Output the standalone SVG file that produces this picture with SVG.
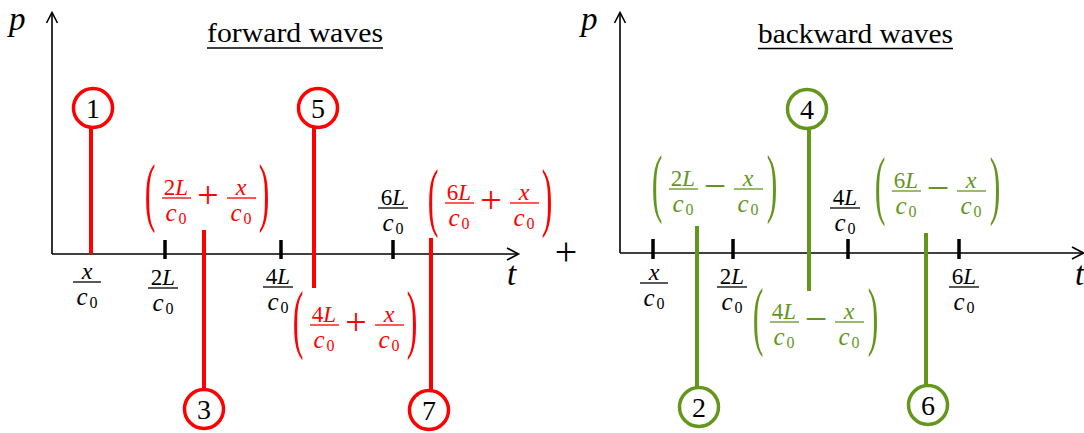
<svg xmlns="http://www.w3.org/2000/svg" width="1084" height="433" viewBox="0 0 1084 433" font-family="'Liberation Serif', 'DejaVu Serif', serif">
<style>
text{font-family:'Liberation Serif','DejaVu Serif',serif}
.ax{stroke:#000;stroke-width:1.6;fill:none}
.tick{stroke:#000;stroke-width:3.5}
.rl{stroke:#ff0000;stroke-width:4}
.gl{stroke:#64961c;stroke-width:4}
.rc{fill:#fff;stroke:#ff0000;stroke-width:3.5}
.gc{fill:#fff;stroke:#64961c;stroke-width:3.5}
.num{font-size:28px;text-anchor:middle;fill:#000}
.m{font-size:23px;text-anchor:middle}
.i{font-style:italic}
.xv{font-style:italic;font-size:24px}
.c{font-style:italic;font-size:25px}
.sub{font-size:16px}
.par{font-size:76px;text-anchor:middle}
.op{font-size:38px;text-anchor:middle}
.mi{font-size:40px;text-anchor:middle}
.big{font-style:italic;font-size:33px}
.title{font-size:27px;fill:#000}
.red text{fill:#ff0000}
.red line{stroke:#ff0000;stroke-width:1.3}
.green text{fill:#64961c}
.green line{stroke:#64961c;stroke-width:1.3}
.blk text{fill:#000}
.blk line{stroke:#000;stroke-width:1.3}
</style>

<g id="axes">
  <line class="ax" x1="52" y1="254" x2="52" y2="13"/>
  <polyline class="ax" points="46.5,23 52,12.5 57.5,23"/>
  <line class="ax" x1="52" y1="254" x2="518" y2="254"/>
  <polyline class="ax" points="507,248 518.5,254 507,260"/>
  <line class="ax" x1="620" y1="253" x2="620" y2="13"/>
  <polyline class="ax" points="614.5,23 620,12.5 625.5,23"/>
  <line class="ax" x1="620" y1="253" x2="1083" y2="253"/>
  <polyline class="ax" points="1072,247 1083.5,253 1072,259"/>
  <line class="tick" x1="165" y1="240" x2="165" y2="259"/>
  <line class="tick" x1="281" y1="240" x2="281" y2="259"/>
  <line class="tick" x1="393" y1="240" x2="393" y2="259"/>
  <line class="tick" x1="653" y1="239" x2="653" y2="259"/>
  <line class="tick" x1="733" y1="239" x2="733" y2="259"/>
  <line class="tick" x1="848" y1="239" x2="848" y2="259"/>
  <line class="tick" x1="959" y1="239" x2="959" y2="259"/>
  <text class="big" x="9" y="30">p</text>
  <text class="big" x="581" y="30">p</text>
  <text class="big" x="507" y="285">t</text>
  <text class="big" x="1075" y="285">t</text>
  <text class="op" x="566" y="265" style="font-size:40px">+</text>
</g>

<g id="titles">
  <text class="title" x="207" y="42" textLength="176" lengthAdjust="spacingAndGlyphs">forward waves</text>
  <line x1="207" y1="48" x2="383" y2="48" stroke="#000" stroke-width="1.5"/>
  <text class="title" x="758" y="43" textLength="195" lengthAdjust="spacingAndGlyphs">backward waves</text>
  <line x1="758" y1="48.5" x2="953" y2="48.5" stroke="#000" stroke-width="1.5"/>
</g>

<g id="tick-labels" class="blk">
  <g id="tl-left-x" transform="translate(87,282)">
    <text class="m" x="0" y="-3"><tspan class="xv">x</tspan></text>
    <line x1="-14" y1="0" x2="14" y2="0"/>
    <text class="m" x="0" y="23"><tspan class="c">c</tspan><tspan class="sub" dx="2" dy="3">0</tspan></text>
  </g>
  <g id="tl-left-2L" transform="translate(163,288)">
    <text class="m" x="0" y="-3">2<tspan class="i">L</tspan></text>
    <line x1="-15" y1="0" x2="15" y2="0"/>
    <text class="m" x="0" y="23"><tspan class="c">c</tspan><tspan class="sub" dx="2" dy="3">0</tspan></text>
  </g>
  <g id="tl-left-4L" transform="translate(278,287)">
    <text class="m" x="0" y="-3">4<tspan class="i">L</tspan></text>
    <line x1="-15" y1="0" x2="15" y2="0"/>
    <text class="m" x="0" y="23"><tspan class="c">c</tspan><tspan class="sub" dx="2" dy="3">0</tspan></text>
  </g>
  <g id="tl-left-6L" transform="translate(393,208)">
    <text class="m" x="0" y="-3">6<tspan class="i">L</tspan></text>
    <line x1="-15" y1="0" x2="15" y2="0"/>
    <text class="m" x="0" y="23"><tspan class="c">c</tspan><tspan class="sub" dx="2" dy="3">0</tspan></text>
  </g>
  <g id="tl-right-x" transform="translate(654,283)">
    <text class="m" x="0" y="-3"><tspan class="xv">x</tspan></text>
    <line x1="-14" y1="0" x2="14" y2="0"/>
    <text class="m" x="0" y="23"><tspan class="c">c</tspan><tspan class="sub" dx="2" dy="3">0</tspan></text>
  </g>
  <g id="tl-right-2L" transform="translate(732,287)">
    <text class="m" x="0" y="-3">2<tspan class="i">L</tspan></text>
    <line x1="-15" y1="0" x2="15" y2="0"/>
    <text class="m" x="0" y="23"><tspan class="c">c</tspan><tspan class="sub" dx="2" dy="3">0</tspan></text>
  </g>
  <g id="tl-right-4L" transform="translate(845,208)">
    <text class="m" x="0" y="-3">4<tspan class="i">L</tspan></text>
    <line x1="-15" y1="0" x2="15" y2="0"/>
    <text class="m" x="0" y="23"><tspan class="c">c</tspan><tspan class="sub" dx="2" dy="3">0</tspan></text>
  </g>
  <g id="tl-right-6L" transform="translate(964,287)">
    <text class="m" x="0" y="-3">6<tspan class="i">L</tspan></text>
    <line x1="-15" y1="0" x2="15" y2="0"/>
    <text class="m" x="0" y="23"><tspan class="c">c</tspan><tspan class="sub" dx="2" dy="3">0</tspan></text>
  </g>
</g>

<g id="connectors">
  <line class="rl" x1="91" y1="126" x2="91" y2="254"/>
  <line class="rl" x1="204" y1="230" x2="204" y2="390"/>
  <line class="rl" x1="314" y1="126" x2="314" y2="288"/>
  <line class="rl" x1="431" y1="238" x2="431" y2="391"/>
  <line class="gl" x1="697" y1="226" x2="697" y2="389"/>
  <line class="gl" x1="809" y1="127" x2="809" y2="291"/>
  <line class="gl" x1="926" y1="233" x2="926" y2="387"/>
</g>

<g id="node-1"><circle class="rc" cx="93" cy="108" r="19.5"/><text class="num" x="93" y="118">1</text></g>
<g id="node-3"><circle class="rc" cx="204" cy="409" r="19.5"/><text class="num" x="204" y="419">3</text></g>
<g id="node-5"><circle class="rc" cx="318" cy="108" r="19.5"/><text class="num" x="318" y="118">5</text></g>
<g id="node-7"><circle class="rc" cx="429" cy="410" r="19.5"/><text class="num" x="429" y="420">7</text></g>
<g id="node-2"><circle class="gc" cx="699" cy="407" r="19.5"/><text class="num" x="699" y="417">2</text></g>
<g id="node-4"><circle class="gc" cx="807" cy="109" r="19.5"/><text class="num" x="807" y="119">4</text></g>
<g id="node-6"><circle class="gc" cx="928" cy="405" r="19.5"/><text class="num" x="928" y="415">6</text></g>

<g id="label-3" class="red" transform="translate(145,198)">
  <text class="par" transform="translate(5,19) scale(0.42,1)">(</text>
  <text class="m" x="31" y="-3">2<tspan class="i">L</tspan></text>
  <line x1="17" y1="0" x2="46" y2="0"/>
  <text class="m" x="31" y="23"><tspan class="c">c</tspan><tspan class="sub" dx="2" dy="3">0</tspan></text>
  <text class="op" x="63" y="10">+</text>
  <text class="m" x="96" y="-3"><tspan class="xv">x</tspan></text>
  <line x1="82" y1="0" x2="111" y2="0"/>
  <text class="m" x="96" y="23"><tspan class="c">c</tspan><tspan class="sub" dx="2" dy="3">0</tspan></text>
  <text class="par" transform="translate(119,19) scale(0.42,1)">)</text>
</g>
<g id="label-5" class="red" transform="translate(293,325)">
  <text class="par" transform="translate(5,19) scale(0.42,1)">(</text>
  <text class="m" x="31" y="-3">4<tspan class="i">L</tspan></text>
  <line x1="17" y1="0" x2="46" y2="0"/>
  <text class="m" x="31" y="23"><tspan class="c">c</tspan><tspan class="sub" dx="2" dy="3">0</tspan></text>
  <text class="op" x="63" y="10">+</text>
  <text class="m" x="96" y="-3"><tspan class="xv">x</tspan></text>
  <line x1="82" y1="0" x2="111" y2="0"/>
  <text class="m" x="96" y="23"><tspan class="c">c</tspan><tspan class="sub" dx="2" dy="3">0</tspan></text>
  <text class="par" transform="translate(119,19) scale(0.42,1)">)</text>
</g>
<g id="label-7" class="red" transform="translate(428,203)">
  <text class="par" transform="translate(5,19) scale(0.42,1)">(</text>
  <text class="m" x="31" y="-3">6<tspan class="i">L</tspan></text>
  <line x1="17" y1="0" x2="46" y2="0"/>
  <text class="m" x="31" y="23"><tspan class="c">c</tspan><tspan class="sub" dx="2" dy="3">0</tspan></text>
  <text class="op" x="63" y="10">+</text>
  <text class="m" x="96" y="-3"><tspan class="xv">x</tspan></text>
  <line x1="82" y1="0" x2="111" y2="0"/>
  <text class="m" x="96" y="23"><tspan class="c">c</tspan><tspan class="sub" dx="2" dy="3">0</tspan></text>
  <text class="par" transform="translate(119,19) scale(0.42,1)">)</text>
</g>
<g id="label-2" class="green" transform="translate(652,189)">
  <text class="par" transform="translate(5,19) scale(0.42,1)">(</text>
  <text class="m" x="31" y="-3">2<tspan class="i">L</tspan></text>
  <line x1="17" y1="0" x2="46" y2="0"/>
  <text class="m" x="31" y="23"><tspan class="c">c</tspan><tspan class="sub" dx="2" dy="3">0</tspan></text>
  <text class="mi" x="63" y="10">−</text>
  <text class="m" x="96" y="-3"><tspan class="xv">x</tspan></text>
  <line x1="82" y1="0" x2="111" y2="0"/>
  <text class="m" x="96" y="23"><tspan class="c">c</tspan><tspan class="sub" dx="2" dy="3">0</tspan></text>
  <text class="par" transform="translate(120,19) scale(0.42,1)">)</text>
</g>
<g id="label-4" class="green" transform="translate(753,322)">
  <text class="par" transform="translate(5,19) scale(0.42,1)">(</text>
  <text class="m" x="31" y="-3">4<tspan class="i">L</tspan></text>
  <line x1="17" y1="0" x2="46" y2="0"/>
  <text class="m" x="31" y="23"><tspan class="c">c</tspan><tspan class="sub" dx="2" dy="3">0</tspan></text>
  <text class="mi" x="63" y="10">−</text>
  <text class="m" x="96" y="-3"><tspan class="xv">x</tspan></text>
  <line x1="82" y1="0" x2="111" y2="0"/>
  <text class="m" x="96" y="23"><tspan class="c">c</tspan><tspan class="sub" dx="2" dy="3">0</tspan></text>
  <text class="par" transform="translate(120,19) scale(0.42,1)">)</text>
</g>
<g id="label-6" class="green" transform="translate(875,191)">
  <text class="par" transform="translate(5,19) scale(0.42,1)">(</text>
  <text class="m" x="31" y="-3">6<tspan class="i">L</tspan></text>
  <line x1="17" y1="0" x2="46" y2="0"/>
  <text class="m" x="31" y="23"><tspan class="c">c</tspan><tspan class="sub" dx="2" dy="3">0</tspan></text>
  <text class="mi" x="63" y="10">−</text>
  <text class="m" x="96" y="-3"><tspan class="xv">x</tspan></text>
  <line x1="82" y1="0" x2="111" y2="0"/>
  <text class="m" x="96" y="23"><tspan class="c">c</tspan><tspan class="sub" dx="2" dy="3">0</tspan></text>
  <text class="par" transform="translate(120,19) scale(0.42,1)">)</text>
</g>
</svg>
